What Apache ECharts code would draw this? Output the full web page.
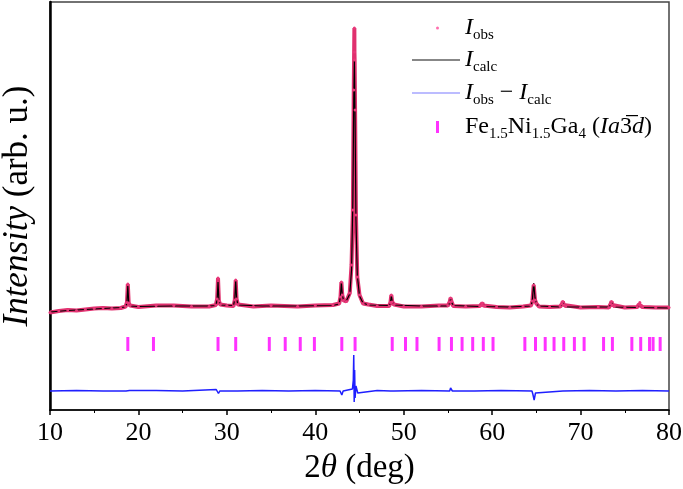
<!DOCTYPE html>
<html>
<head>
<meta charset="utf-8">
<script src="https://cdn.jsdelivr.net/npm/echarts@6/dist/echarts.min.js"></script>
<style>
  html, body { margin: 0; padding: 0; background: #fff; }
  #chart { width: 683px; height: 489px; }
</style>
</head>
<body>
<div id="chart"></div>
<script>
// calculated profile (2theta, intensity)
const calcX = [10, 12, 14, 16, 18, 18.55, 18.7, 18.8, 18.9, 19.05, 20, 24, 28, 28.75, 28.9, 29.0, 29.1, 29.25,
  30.75, 30.9, 31.0, 31.1, 31.25, 34, 38, 42, 42.7, 42.85, 42.95, 43.05, 43.2, 43.5, 43.9, 44.1, 44.25, 44.35,
  44.42, 44.5, 44.6, 44.75, 45.0, 45.4, 46, 48.35, 48.5, 48.6, 48.7, 48.9, 52, 55.0, 55.2, 55.3, 55.4, 55.6,
  58.6, 58.8, 58.9, 59.0, 59.2, 62, 64.4, 64.55, 64.7, 64.85, 65.0, 65.3, 67.7, 67.9, 68.0, 68.1, 68.3,
  73.2, 73.4, 73.5, 73.6, 73.8, 76.4, 76.6, 76.7, 76.8, 77.0, 80];
const calcY = [98, 99.5, 100.5, 101.5, 102.5, 103, 107, 124, 108, 104, 103.5, 104, 104, 104.5, 110, 128, 110, 105,
  104.5, 111, 129, 112, 105, 104, 104, 104.5, 106, 114, 127, 116, 109, 109, 116, 140, 210, 310,
  350, 290, 190, 135, 114, 107, 105, 104.5, 107, 114, 109, 105, 104, 104, 107, 111, 108, 104.5,
  103.5, 104.5, 106.5, 105, 103.5, 103, 104, 110, 127, 112, 106, 104, 103, 105.5, 108, 105.5, 103,
  103, 105.5, 108, 105.5, 103, 102.5, 105, 107, 105, 102.5, 102];

// observed points
const obsX = [10, 11, 12, 13, 14, 15, 16, 17, 18, 18.55, 18.7, 18.8, 18.9, 19.05, 20, 22, 24, 26, 28, 28.75, 28.9, 29.0,
  29.1, 29.25, 30, 30.75, 30.9, 31.0, 31.1, 31.25, 33, 35, 38, 40, 42, 42.7, 42.85, 42.95, 43.05, 43.2, 43.5, 43.9,
  44.1, 44.25, 44.35, 44.42, 44.43, 44.45, 44.5, 44.6, 44.75, 45.0, 45.4, 46, 47, 48.35, 48.5, 48.6, 48.7, 48.9,
  50, 52, 54, 55.0, 55.2, 55.3, 55.4, 55.6, 57, 58.6, 58.8, 58.9, 59.0, 59.2, 60.5, 62, 63.5, 64.4, 64.55, 64.7,
  64.85, 65.0, 65.3, 66.5, 67.7, 67.9, 68.0, 68.1, 68.3, 70, 72, 73.2, 73.4, 73.5, 73.6, 73.8, 75, 76.4, 76.6,
  76.7, 76.8, 77.0, 78.5, 80];
const obsY = [97.5, 99, 100, 99.5, 100.5, 101.5, 102, 101.5, 102, 103.5, 107.5, 126, 107, 104.5, 103, 104.5, 104.5,
  103.5, 103.5, 105, 111, 132, 109, 105.5, 104.5, 104, 110, 130, 111, 105.5, 103.5, 104.5, 103.5, 104.5, 105,
  106.5, 113, 128, 115, 109.5, 108.5, 117, 145, 200, 320, 382, 358, 350, 300, 195, 133, 115, 106.5, 105.5, 104,
  104, 107.5, 115, 108, 105.5, 103.5, 103.5, 104.5, 104.5, 108, 112, 108.5, 104, 103.5, 104, 105, 107, 104.5,
  104, 103, 102.5, 103.5, 104.5, 109, 125, 110, 106.5, 103.5, 103, 103.5, 106, 108.5, 105, 103.5, 102.5, 103,
  102.5, 106, 108.5, 105, 103.5, 102.5, 103, 105.5, 107.5, 104.5, 103, 102.5, 102.5];

// difference curve (offset)
const diffX = [10, 13, 16, 18.6, 18.8, 19.0, 22, 25, 28.8, 28.95, 29.05, 29.2, 30.9, 31.0, 31.2, 34, 37, 40,
  42.8, 43.0, 43.15, 44.2, 44.3, 44.35, 44.4, 44.45, 44.5, 44.6, 44.8, 45.0, 47, 48.5, 48.7, 48.9, 52,
  55.2, 55.3, 55.5, 58, 61, 64.5, 64.6, 64.75, 64.9, 65.1, 68, 71, 74, 77, 80];
const diffY = [19, 19.5, 19, 19, 17, 19.5, 19.5, 19, 20.5, 22, 16.5, 19, 19, 17, 19, 19.5, 19, 19.5,
  19, 15, 19, 21, 30, 55, 8, 40, 12, 24, 17, 19, 19.5, 19, 17, 19, 19.5,
  19, 22, 19, 19, 19.5, 19, 16, 10, 17, 19, 19, 19.5, 19, 19.5, 19];

// Bragg reflection positions
const braggPos = [18.8, 21.7, 29.0, 31.0, 34.8, 36.6, 38.3, 39.9, 43.0, 44.5, 48.7, 50.2, 51.5, 54.0, 55.4,
  56.6, 57.8, 59.0, 60.1, 63.7, 64.9, 66.0, 67.0, 68.1, 69.3, 70.4, 72.6, 73.6, 75.8, 76.8, 77.8, 78.2, 79.0];

const xTicks = [10, 20, 30, 40, 50, 60, 70, 80];

const MARK_Y = 66;
const serif = 'Liberation Serif';
const pair = (xs, ys) => xs.map((x, k) => [x, ys[k]]);

const chart = echarts.init(document.getElementById('chart'));

const legendRich = {
  i: { fontFamily: serif, fontStyle: 'italic', fontSize: 24, lineHeight: 30, color: '#000' },
  s: { fontFamily: serif, fontSize: 15, lineHeight: 14, verticalAlign: 'bottom', color: '#000' }
};
const legendText = {
  obs: '{i|I}{s|obs}',
  calc: '{i|I}{s|calc}',
  diff: '{i|I}{s|obs} \u2212 {i|I}{s|calc}',
  phase: 'Fe{s|1.5}Ni{s|1.5}Ga{s|4} ({i|Ia}3\u0305{i|d})'
};
// one legend block per row so each icon can have its own size
function leg(item, left, top, w, h, padLeft) {
  return {
    data: [item], top: top, left: left, orient: 'vertical',
    itemWidth: w, itemHeight: h, selectedMode: false,
    formatter: n => legendText[n],
    textStyle: {
      fontFamily: serif, fontSize: 24, lineHeight: 30, color: '#000',
      padding: [0, 0, 0, padLeft], rich: legendRich
    }
  };
}

function axisName(size) {
  return {
    color: '#000', fontFamily: serif, fontSize: size,
    rich: { i: { fontFamily: serif, fontStyle: 'italic', fontSize: size, color: '#000' } }
  };
}

chart.setOption({
  animation: false,
  grid: {
    left: 50, right: 14, top: 2, bottom: 79, outerBoundsMode: 'none',
    show: true, borderColor: '#444', borderWidth: 1.5
  },
  legend: [
    leg({ name: 'obs', icon: 'circle', itemStyle: { color: '#ff6fae' } }, 431, 8, 3, 3, 21),
    leg({ name: 'calc', icon: 'rect', itemStyle: { color: '#111' } }, 407, 40, 48, 1.2, 0),
    leg({ name: 'diff', icon: 'rect', itemStyle: { color: '#7a7aff' } }, 407, 73, 48, 1.2, 0),
    leg({ name: 'phase', icon: 'rect', itemStyle: { color: '#ff00ff' } }, 431, 107, 3, 12, 21)
  ],
  xAxis: {
    type: 'value', min: 10, max: 80, interval: 10,
    axisLine: { lineStyle: { color: '#000', width: 1.5 } },
    axisTick: { inside: false, length: 5, lineStyle: { color: '#000', width: 1.5 } },
    minorTick: { show: true, splitNumber: 2, length: 3, lineStyle: { color: '#000', width: 1 } },
    splitLine: { show: false },
    axisLabel: {
      color: '#000', fontFamily: serif, fontSize: 26, margin: 10,
      formatter: v => xTicks.includes(v) ? String(v) : ''
    },
    name: '2{i|\u03b8} (deg)', nameLocation: 'middle', nameGap: 42,
    nameTextStyle: axisName(33)
  },
  yAxis: {
    type: 'value', min: 0, max: 408,
    axisLine: { show: true, lineStyle: { color: '#000', width: 2.5 } },
    axisTick: { show: false }, axisLabel: { show: false }, splitLine: { show: false },
    name: '{i|Intensity} (arb. u.)', nameLocation: 'middle', nameGap: 15,
    nameTextStyle: axisName(35)
  },
  series: [
    {
      name: 'obs', type: 'line', data: pair(obsX, obsY),
      showSymbol: true, symbol: 'circle', symbolSize: 3, showAllSymbol: true,
      itemStyle: { color: '#e8387a' },
      lineStyle: { color: '#e0306e', width: 4 }
    },
    {
      name: 'calc', type: 'line', data: pair(calcX, calcY), symbol: 'none',
      lineStyle: { color: '#000', width: 1.2 }, itemStyle: { color: '#000' }
    },
    {
      name: 'diff', type: 'line', data: pair(diffX, diffY), symbol: 'none',
      lineStyle: { color: '#1f1fff', width: 1.5 }, itemStyle: { color: '#1f1fff' }
    },
    {
      name: 'phase', type: 'scatter', data: braggPos.map(x => [x, MARK_Y]),
      symbol: 'rect', symbolSize: [3, 14], itemStyle: { color: '#ff00ff' }
    }
  ]
});
</script>
</body>
</html>
